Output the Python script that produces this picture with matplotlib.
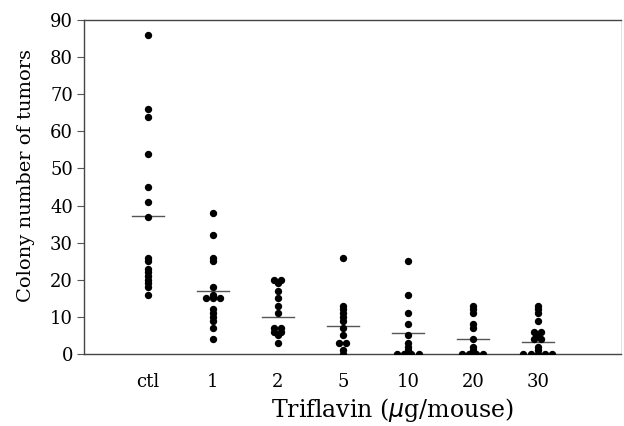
import numpy as np
import matplotlib
matplotlib.use("Agg")
import matplotlib.pyplot as plt

# groups and colony counts
groups = ["ctl", "1", "2", "5", "10", "20", "30"]
ctl = [86, 66, 64, 54, 45, 41, 37, 26, 25, 23, 22, 21, 20, 19, 18, 16]
d1 = [38, 32, 26, 25, 18, 16, 15, 15, 15, 12, 11, 10, 9, 7, 4]
d2 = [20, 20, 19, 17, 15, 13, 11, 7, 7, 6, 6, 5, 3]
d5 = [26, 13, 12, 11, 10, 9, 7, 5, 3, 3, 1, 0]
d10 = [25, 16, 11, 8, 5, 3, 2, 1, 0, 0, 0, 0]
d20 = [13, 12, 11, 8, 7, 4, 2, 1, 0, 0, 0, 0]
d30 = [13, 12, 11, 9, 6, 6, 5, 4, 4, 2, 1, 0, 0, 0, 0, 0]
means = [37.2, 17.0, 10.1, 7.6, 5.7, 4.0, 3.2]
yticks = [0, 10, 20, 30, 40, 50, 60, 70, 80, 90]

data = [ctl, d1, d2, d5, d10, d20, d30]

plt.rcParams['font.family'] = ['DejaVu Serif']
fig = plt.figure(figsize=(6.24, 4.26), dpi=100)
ax = fig.add_axes([0.1346, 0.169, 0.8604, 0.784])

step = 0.11  # horizontal spacing for tied values
for i, vals in enumerate(data):
    vals = np.array(vals)
    xs = []
    ys = []
    for v in np.unique(vals):
        n = int((vals == v).sum())
        offs = (np.arange(n) - (n - 1) / 2) * step
        xs.extend(i + offs)
        ys.extend([v] * n)
    ax.scatter(xs, ys, s=28, color="black", zorder=3, linewidths=0)
    ax.plot([i - 0.245, i + 0.245], [means[i], means[i]], color="#555555", lw=1.0, zorder=2)

ax.set_xlim(-0.985, 7.28)
ax.set_ylim(0, 90)
ax.set_xticks(range(len(groups)))
ax.set_xticklabels(groups, fontsize=13)
ax.set_yticks(yticks)
ax.set_yticklabels([str(t) for t in yticks], fontsize=13)
ax.tick_params(axis="x", length=0, pad=14)
ax.tick_params(axis="y", length=5, width=0.8, color="#555555", pad=3)

for side in ["left", "bottom", "top"]:
    ax.spines[side].set_color("#444444")
    ax.spines[side].set_linewidth(1.0)
ax.spines["right"].set_color("#dddddd")
ax.spines["right"].set_linewidth(0.6)

ax.set_ylabel("Colony number of tumors", fontsize=14)
ax.yaxis.set_label_coords(-0.091, 0.533)
ax.set_xlabel(r"Triflavin ($\mu$g/mouse)", fontsize=17)
ax.xaxis.set_label_coords(0.574, -0.125)

fig.savefig("out.png", dpi=100)
